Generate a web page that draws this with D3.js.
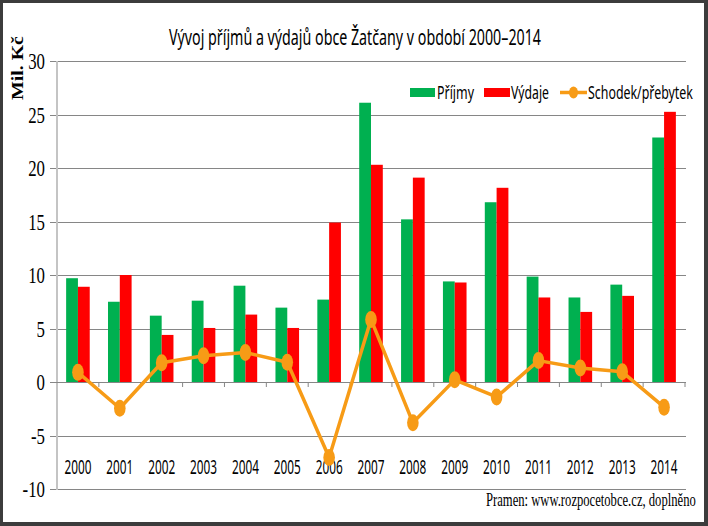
<!DOCTYPE html>
<html>
<head>
<meta charset="utf-8">
<script src="https://cdn.jsdelivr.net/npm/d3@7"></script>
<style>
  html, body { margin: 0; padding: 0; background: #fff; }
  svg { display: block; }
</style>
</head>
<body>
<div id="chart"></div>
<script>
const years = ["2000","2001","2002","2003","2004","2005","2006","2007","2008","2009","2010","2011","2012","2013","2014"];
const prijmy = [9.7, 7.5, 6.2, 7.6, 9.0, 6.95, 7.7, 26.1, 15.2, 9.4, 16.8, 9.85, 7.9, 9.1, 22.85];
const vydaje = [8.9, 10.0, 4.4, 5.05, 6.3, 5.05, 14.9, 20.3, 19.1, 9.3, 18.15, 7.9, 6.55, 8.05, 25.25];
const saldo  = [0.9, -2.45, 1.8, 2.45, 2.75, 1.85, -7.05, 5.85, -3.8, 0.2, -1.4, 2.0, 1.3, 0.95, -2.35];
const yTicks = [-10, -5, 0, 5, 10, 15, 20, 25, 30];
const seriesNames = ["Příjmy", "Výdaje", "Schodek/přebytek"];
const title = "Vývoj příjmů a výdajů obce Žatčany v období 2000–2014";
const yTitle = "Mil. Kč";
const source = "Pramen: www.rozpocetobce.cz, doplněno";

const W = 708, H = 526;
const GREEN = "#00B050", RED = "#FF0000", ORANGE = "#F79B16";
const GRID = "#868686";
const SANS = "'Noto Sans', 'Open Sans', sans-serif";
const SERIF = "'Liberation Serif', 'DejaVu Serif', serif";

const svg = d3.select("#chart").append("svg").attr("width", W).attr("height", H);

// place a text so that its rendered width equals `width`
function fitText(parent, str, x, yb, width, opts) {
  const t = parent.append("text")
    .attr("font-family", opts.family).attr("font-size", opts.size)
    .attr("font-weight", opts.weight || "normal").attr("fill", "#000")
    .attr("text-anchor", opts.anchor || "start")
    .text(str);
  const natural = t.node().getComputedTextLength();
  const sx = width / natural;
  t.attr("transform", `translate(${x},${yb})${opts.rotate ? " rotate(" + opts.rotate + ")" : ""} scale(${sx},1)`);
  return t;
}

// frame
svg.append("rect").attr("x", 0).attr("y", 0).attr("width", W).attr("height", H).attr("fill", "#3c3c3c");
svg.append("rect").attr("x", 3).attr("y", 3).attr("width", 701).attr("height", 519).attr("fill", "#fff");

const x = d3.scaleBand().domain(years).range([57, 685]).paddingInner(0).paddingOuter(0);
const x1 = d3.scaleBand().domain(["p", "v"]).range([0, x.bandwidth()]).paddingInner(0).paddingOuter(0.774);
const y = d3.scaleLinear().domain([-10, 30]).range([489, 61]);

// gridlines (including tick marks to the left)
svg.append("g").selectAll("line").data(yTicks.filter(t => t !== 0)).join("line")
  .attr("x1", 50).attr("x2", 686)
  .attr("y1", d => Math.round(y(d)) + 0.5).attr("y2", d => Math.round(y(d)) + 0.5)
  .attr("stroke", GRID).attr("stroke-width", 1);

// left axis line
svg.append("line").attr("x1", 57).attr("x2", 57).attr("y1", y(30)).attr("y2", y(-10) + 1)
  .attr("stroke", "#c4c4c4").attr("stroke-width", 2);

// y tick labels
svg.append("g").selectAll("text").data(yTicks).join("text")
  .attr("transform", d => `translate(45,${y(d) + 8}) scale(0.7,1)`)
  .attr("text-anchor", "end")
  .attr("font-family", SERIF).attr("font-size", 24).attr("fill", "#000")
  .text(d => d);

// bars
const gBars = svg.append("g");
years.forEach((yr, i) => {
  [["p", prijmy[i], GREEN], ["v", vydaje[i], RED]].forEach(([k, v, c]) => {
    gBars.append("rect")
      .attr("x", x(yr) + x1(k)).attr("width", x1.bandwidth())
      .attr("y", y(Math.max(0, v))).attr("height", Math.abs(y(v) - y(0)))
      .attr("fill", c);
  });
});

// zero axis line with ticks
svg.append("line").attr("x1", 50).attr("x2", 686).attr("y1", Math.round(y(0)) + 0.5).attr("y2", Math.round(y(0)) + 0.5)
  .attr("stroke", GRID).attr("stroke-width", 1);
svg.append("g").selectAll("line").data(years.slice(1).concat(["end"])).join("line")
  .attr("x1", d => d === "end" ? 685 : x(d)).attr("x2", d => d === "end" ? 685 : x(d))
  .attr("y1", y(0)).attr("y2", y(0) + 5)
  .attr("stroke", GRID).attr("stroke-width", 1);

// x labels
const gx = svg.append("g");
years.forEach(yr => fitText(gx, yr, x(yr) + x.bandwidth() / 2, 474, 27, {family: SANS, size: 20.5, anchor: "middle"}));

// line
const line = d3.line().x((d, i) => x(years[i]) + x.bandwidth() / 2).y(d => y(d));
svg.append("path").datum(saldo).attr("d", line)
  .attr("fill", "none").attr("stroke", ORANGE).attr("stroke-width", 3.5).attr("stroke-linejoin", "round");
svg.append("g").selectAll("ellipse").data(saldo).join("ellipse")
  .attr("cx", (d, i) => x(years[i]) + x.bandwidth() / 2).attr("cy", d => y(d))
  .attr("rx", 5.8).attr("ry", 8.5).attr("fill", ORANGE);

// title
fitText(svg, title, 355, 45, 372, {family: SANS, size: 22.5, anchor: "middle"});

// y title
fitText(svg, yTitle, 23, 100, 64, {family: SERIF, size: 17, weight: "bold", rotate: -90});

// legend
const lg = svg.append("g");
lg.append("rect").attr("x", 410).attr("y", 88).attr("width", 25).attr("height", 9).attr("fill", GREEN);
fitText(lg, seriesNames[0], 437, 99, 37, {family: SANS, size: 18.5});
lg.append("rect").attr("x", 484).attr("y", 88).attr("width", 26).attr("height", 9).attr("fill", RED);
fitText(lg, seriesNames[1], 511, 99, 38, {family: SANS, size: 18.5});
lg.append("line").attr("x1", 560).attr("x2", 587).attr("y1", 92.5).attr("y2", 92.5)
  .attr("stroke", ORANGE).attr("stroke-width", 3.5);
lg.append("ellipse").attr("cx", 573.5).attr("cy", 92.5).attr("rx", 4.5).attr("ry", 6).attr("fill", ORANGE);
fitText(lg, seriesNames[2], 588, 99, 105, {family: SANS, size: 18.5});

// source
fitText(svg, source, 486, 506, 210, {family: SERIF, size: 18});
</script>
</body>
</html>
